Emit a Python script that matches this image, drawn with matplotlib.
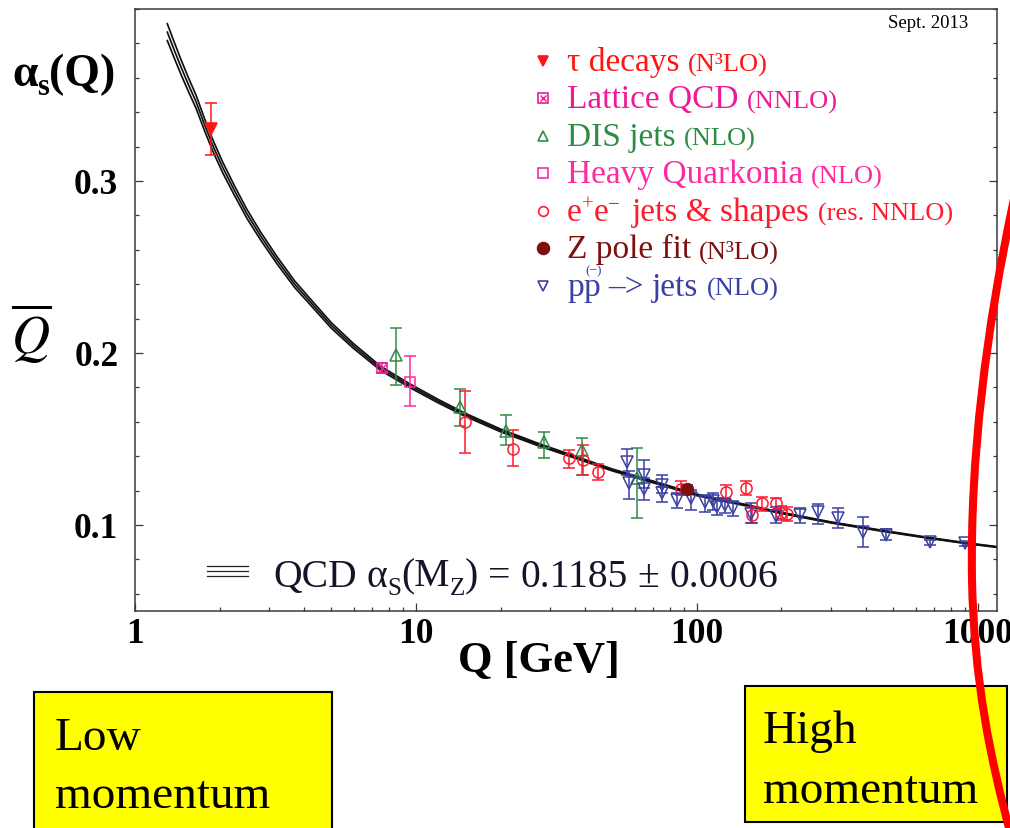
import matplotlib
matplotlib.use("Agg")
import matplotlib.pyplot as plt
import numpy as np
from matplotlib.transforms import Affine2D
from matplotlib.patches import Rectangle, PathPatch
from matplotlib.path import Path
from matplotlib.lines import Line2D
from matplotlib.ticker import FixedLocator, MultipleLocator, NullFormatter

plt.rcParams['font.family'] = ['Liberation Serif', 'DejaVu Serif']
plt.rcParams['mathtext.fontset'] = 'stix'

W, H, DPI = 1010, 829, 100

# ---- QCD running coupling: central value and band half-width ----
curve_q = [1.30, 1.38, 1.46, 1.55, 1.65, 1.775, 1.9, 2.05, 2.25, 2.5, 2.8, 3.2,
           3.7, 4.3, 5.0, 6.0, 7.5, 9.5, 12, 15, 20, 27, 36, 50, 70, 100, 140,
           200, 300, 450, 650, 900, 1170]
curve_alpha = [0.387, 0.376, 0.366, 0.356, 0.346, 0.332, 0.320, 0.308, 0.295,
               0.281, 0.268, 0.254, 0.240, 0.228, 0.216, 0.204, 0.191, 0.181,
               0.172, 0.164, 0.155, 0.147, 0.140, 0.132, 0.125, 0.1175, 0.1125,
               0.1070, 0.1015, 0.0968, 0.0928, 0.0895, 0.0872]
curve_err = [0.0049, 0.0046, 0.0043, 0.0040, 0.0038, 0.0035, 0.0033, 0.0031,
             0.0028, 0.0026, 0.0023, 0.0021, 0.0019, 0.0017, 0.0016, 0.0014,
             0.0012, 0.0011, 0.0010, 0.0009, 0.0008, 0.0007, 0.0006, 0.00055,
             0.0005, 0.00045, 0.0004, 0.00035, 0.0003, 0.00028, 0.00026,
             0.00024, 0.00022]

# ---- measurements ----
tau_q = [1.87]
tau_a = [0.330]
tau_lo = [0.0146]
tau_hi = [0.0154]

lat_q = [7.55]
lat_a = [0.1912]
lat_lo = [0.003]
lat_hi = [0.003]

dis_q = [8.47, 14.35, 20.9, 28.6, 38.9, 61.0]
dis_a = [0.1986, 0.1686, 0.1545, 0.1480, 0.1435, 0.1271]
dis_lo = [0.0170, 0.0112, 0.0077, 0.0088, 0.0145, 0.0228]
dis_hi = [0.0158, 0.0103, 0.0097, 0.0060, 0.0072, 0.0174]

hq_q = [9.52]
hq_a = [0.1831]
hq_lo = [0.0141]
hq_hi = [0.0151]

ee_q = [14.94, 22.1, 35.1, 39.2, 44.5, 87.7, 126.8, 149, 157, 170.7, 190.6, 200, 208.6]
ee_a = [0.1600, 0.1444, 0.1387, 0.1377, 0.1310, 0.1210, 0.1190, 0.1213, 0.1058,
        0.1126, 0.1126, 0.1068, 0.1062]
ee_lo = [0.0180, 0.0102, 0.0054, 0.0087, 0.0049, 0.0035, 0.0045, 0.0039, 0.0048,
         0.0045, 0.0039, 0.0040, 0.0040]
ee_hi = [0.0179, 0.0107, 0.0048, 0.0091, 0.0042, 0.0045, 0.0042, 0.0044, 0.0049,
         0.0039, 0.0033, 0.0040, 0.0040]

z_q = [92.0]
z_a = [0.1207]
z_lo = [0.0025]
z_hi = [0.0025]

pp_q = [56.5, 57.2, 64.9, 64.9, 75.2, 75.2, 84.7, 95.0, 106.8, 114.3, 118.0,
        125.8, 134.0, 155.3, 190.6, 232.6, 268.9, 318.4, 390.8, 473.0, 675.0, 899.0]
pp_a = [0.1367, 0.1242, 0.1290, 0.1207, 0.1232, 0.1184, 0.1145, 0.1155, 0.1132,
        0.1139, 0.1107, 0.1116, 0.1097, 0.1062, 0.1054, 0.1058, 0.1074, 0.1043,
        0.0962, 0.0942, 0.0900, 0.0894]
pp_lo = [0.0077, 0.0091, 0.0077, 0.0062, 0.0048, 0.0048, 0.0048, 0.0068, 0.0054,
         0.0052, 0.0050, 0.0048, 0.0045, 0.0052, 0.0044, 0.0044, 0.0070, 0.0063,
         0.0091, 0.0029, 0.0015, 0.0015]
pp_hi = [0.0074, 0.0071, 0.0087, 0.0064, 0.0058, 0.0039, 0.0039, 0.0048, 0.0042,
         0.0045, 0.0050, 0.0039, 0.0045, 0.0064, 0.0053, 0.0043, 0.0046, 0.0054,
         0.0087, 0.0035, 0.0015, 0.0015]

x_ticks = [1, 10, 100, 1000]
x_tick_labels = ["1", "10", "100", "1000"]
y_ticks = [0.1, 0.2, 0.3]
y_tick_labels = ["0.1", "0.2", "0.3"]

RED = '#ff1414'
MAGENTA = '#ee1a96'
GREEN = '#2f8c48'
PINK = '#ff2aa0'
EE_RED = '#ff1a2e'
MAROON = '#7e1010'
BLUE = '#3a3fa2'
DARK = '#15152a'

fig = plt.figure(figsize=(W / DPI, H / DPI), dpi=DPI)
fig.patch.set_facecolor('white')
# pixel coordinates with origin at the top-left corner
pix = Affine2D().scale(1.0 / W, -1.0 / H).translate(0, 1) + fig.transFigure

ax = fig.add_axes([135 / W, 1 - 612 / H, (997 - 135) / W, (612 - 10) / H])
ax.set_xscale('log')
ax.set_xlim(1, 1170)
ax.set_ylim(0.05, 0.40)

# QCD band: central curve and its two edges
q = np.array(curve_q)
a = np.array(curve_alpha)
e = np.array(curve_err)
for yy in (a - e, a, a + e):
    ax.plot(q, yy, color='#111111', lw=1.25, zorder=2, solid_capstyle='butt')

eb = dict(elinewidth=1.1, capsize=4.2, capthick=1.1, mew=1.1, zorder=3, linestyle='none')
ax.errorbar(tau_q, tau_a, yerr=[tau_lo, tau_hi], marker='v', ms=8, color=RED,
            mfc=RED, mec=RED, ecolor=RED, **eb)
ax.errorbar(dis_q, dis_a, yerr=[dis_lo, dis_hi], marker='^', ms=8, mfc='none',
            mec=GREEN, ecolor=GREEN, **eb)
ax.errorbar(hq_q, hq_a, yerr=[hq_lo, hq_hi], marker='s', ms=7.5, mfc='none',
            mec=PINK, ecolor=PINK, **eb)
ax.errorbar(ee_q, ee_a, yerr=[ee_lo, ee_hi], marker='o', ms=8, mfc='none',
            mec=EE_RED, ecolor=EE_RED, **eb)
ax.errorbar(pp_q, pp_a, yerr=[pp_lo, pp_hi], marker='v', ms=8, mfc='none',
            mec=BLUE, ecolor=BLUE, **eb)
ax.errorbar(lat_q, lat_a, yerr=[lat_lo, lat_hi], marker='s', ms=7.5, mfc='none',
            mec=MAGENTA, ecolor=MAGENTA, **eb)
ax.plot(lat_q, lat_a, marker='x', ms=5.5, mew=1.0, color=MAGENTA, ls='none', zorder=4)
ax.errorbar(z_q, z_a, yerr=[z_lo, z_hi], marker='o', ms=8.5, mfc=MAROON,
            mec=MAROON, ecolor=MAROON, **eb)

# axes styling
for s in ax.spines.values():
    s.set_color('#3a3a3a')
    s.set_linewidth(1.1)
ax.xaxis.set_major_locator(FixedLocator(x_ticks))
ax.set_xticklabels(x_tick_labels)
ax.xaxis.set_minor_locator(FixedLocator(
    [m * 10 ** d for d in range(0, 4) for m in range(2, 10)]))
ax.xaxis.set_minor_formatter(NullFormatter())
ax.yaxis.set_major_locator(FixedLocator(y_ticks))
ax.set_yticklabels(y_tick_labels)
ax.yaxis.set_minor_locator(MultipleLocator(0.02))
ax.tick_params(which='both', direction='in', top=False, right=True, width=0.9,
               color='#3a3a3a')
ax.tick_params(which='major', length=6)
ax.tick_params(which='minor', length=3)
ax.tick_params(axis='x', which='major', pad=4)
ax.tick_params(axis='y', which='major', pad=12)
for lab in ax.get_xticklabels() + ax.get_yticklabels():
    lab.set_fontweight('bold')
    lab.set_fontsize(25.5)
    lab.set_color('black')

renderer = fig.canvas.get_renderer()


def run(x, y, pieces):
    """Draw a sequence of text fragments left to right starting at (x, baseline y)."""
    for piece in pieces:
        if isinstance(piece, (int, float)):
            x += piece
            continue
        s, size, kw = piece
        kw = dict(kw)
        dy = kw.pop('dy', 0)
        t = fig.text(x, y - dy, s, transform=pix, fontsize=size, ha='left',
                     va='baseline', **kw)
        x += t.get_window_extent(renderer).width
    return x


# legend
rows_y = [70.8 + 37.5 * i for i in range(7)]
mk_x = 543
txt_x = 567
legend_marks = [
    dict(marker='v', ms=7, mfc=RED, mec=RED),
    dict(marker='s', ms=6.5, mfc='none', mec=MAGENTA),
    dict(marker='^', ms=6.5, mfc='none', mec=GREEN),
    dict(marker='s', ms=6.5, mfc='none', mec=PINK),
    dict(marker='o', ms=7, mfc='none', mec=EE_RED),
    dict(marker='o', ms=8.5, mfc=MAROON, mec=MAROON),
    dict(marker='v', ms=6.5, mfc='none', mec=BLUE),
]
for yb, mk in zip(rows_y, legend_marks):
    fig.add_artist(Line2D([mk_x], [yb - 9], transform=pix, mew=1.2, ls='none', **mk))
fig.add_artist(Line2D([mk_x], [rows_y[1] - 9], transform=pix, marker='x', ms=4,
                      mew=1.0, color=MAGENTA, ls='none'))

BIG, SMALL = 24, 19
run(txt_x, rows_y[0], [("τ decays", BIG, dict(color=RED)), 8,
                       ("(N³LO)", SMALL, dict(color=RED))])
run(txt_x, rows_y[1], [("Lattice QCD", BIG, dict(color=MAGENTA)), 8,
                       ("(NNLO)", SMALL, dict(color=MAGENTA))])
run(txt_x, rows_y[2], [("DIS jets", BIG, dict(color=GREEN)), 8,
                       ("(NLO)", SMALL, dict(color=GREEN))])
run(txt_x, rows_y[3], [("Heavy Quarkonia", BIG, dict(color=PINK)), 8,
                       ("(NLO)", SMALL, dict(color=PINK))])
run(txt_x, rows_y[4], [("e", BIG, dict(color=EE_RED)),
                       ("+", 15, dict(color=EE_RED, dy=11)),
                       ("e", BIG, dict(color=EE_RED)),
                       ("−", 15, dict(color=EE_RED, dy=11)), 12,
                       ("jets & shapes", BIG, dict(color=EE_RED)), 8,
                       ("(res. NNLO)", SMALL, dict(color=EE_RED))])
run(txt_x, rows_y[5], [("Z pole fit", BIG, dict(color=MAROON)), 8,
                       ("(N³LO)", SMALL, dict(color=MAROON))])
xp = run(txt_x, rows_y[6], [("p", BIG, dict(color=BLUE))])
xp2 = run(xp, rows_y[6], [("p", BIG, dict(color=BLUE))])
fig.text((xp + xp2) / 2 + 1, rows_y[6] - 25, "(−)", transform=pix, fontsize=9.5,
         color=BLUE, ha='center', va='center')
run(xp2 + 8, rows_y[6], [("–>", BIG, dict(color=BLUE)), 8,
                         ("jets", BIG, dict(color=BLUE)), 8,
                         ("(NLO)", SMALL, dict(color=BLUE))])

# band key and fit result
for yk in (566.7, 571.9, 577.1):
    fig.add_artist(Line2D([207, 248], [yk, yk], transform=pix, color='#222222', lw=0.9))
run(273, 586.7, [("QCD", 28.5, dict(color=DARK)), 10,
                 ("α", 28.5, dict(color=DARK)),
                 ("S", 18, dict(color=DARK, dy=-8)),
                 ("(M", 28.5, dict(color=DARK)),
                 ("Z", 18, dict(color=DARK, dy=-8)),
                 (")", 28.5, dict(color=DARK)), 10,
                 ("=", 28.5, dict(color=DARK)), 10,
                 ("0.1185", 28.5, dict(color=DARK)), 10,
                 ("±", 28.5, dict(color=DARK)), 10,
                 ("0.0006", 28.5, dict(color=DARK))])

fig.text(928, 23, "Sept. 2013", transform=pix, fontsize=13.5, ha='center',
         va='center', color='black')

# axis titles
run(12, 86, [("α", 33, dict(fontweight='bold', color='black')),
             ("s", 22, dict(fontweight='bold', color='black', dy=-9)),
             ("(Q)", 33, dict(fontweight='bold', color='black'))])
fig.text(31, 334, r"$\overline{Q}$", transform=pix, fontsize=38, ha='center',
         va='center', color='black')
fig.text(539, 661, "Q [GeV]", transform=pix, fontsize=32, fontweight='bold',
         ha='center', va='center', color='black')

# annotation boxes
fig.add_artist(Rectangle((33.5, 693), 298, 160, transform=pix, facecolor='#ffff00',
                         edgecolor='black', lw=1.5, zorder=5))
fig.add_artist(Rectangle((745, 687), 262, 136, transform=pix, facecolor='#ffff00',
                         edgecolor='black', lw=1.5, zorder=5))
fig.text(55, 750, "Low", transform=pix, fontsize=34, ha='left', va='baseline', zorder=6)
fig.text(55, 808, "momentum", transform=pix, fontsize=34, ha='left', va='baseline', zorder=6)
fig.text(763, 743, "High", transform=pix, fontsize=34, ha='left', va='baseline', zorder=6)
fig.text(763, 803, "momentum", transform=pix, fontsize=34, ha='left', va='baseline', zorder=6)

# hand-drawn red arc at the high-momentum end
verts = [(1014, 200), (986, 330), (970, 460), (972, 580),
         (974, 680), (990, 760), (1012, 840)]
codes = [Path.MOVETO] + [Path.CURVE4] * 6
fig.add_artist(PathPatch(Path(verts, codes), transform=pix, facecolor='none',
                         edgecolor='#ff0000', lw=5.8, zorder=10, capstyle='round'))

fig.savefig("out.png", dpi=DPI)
